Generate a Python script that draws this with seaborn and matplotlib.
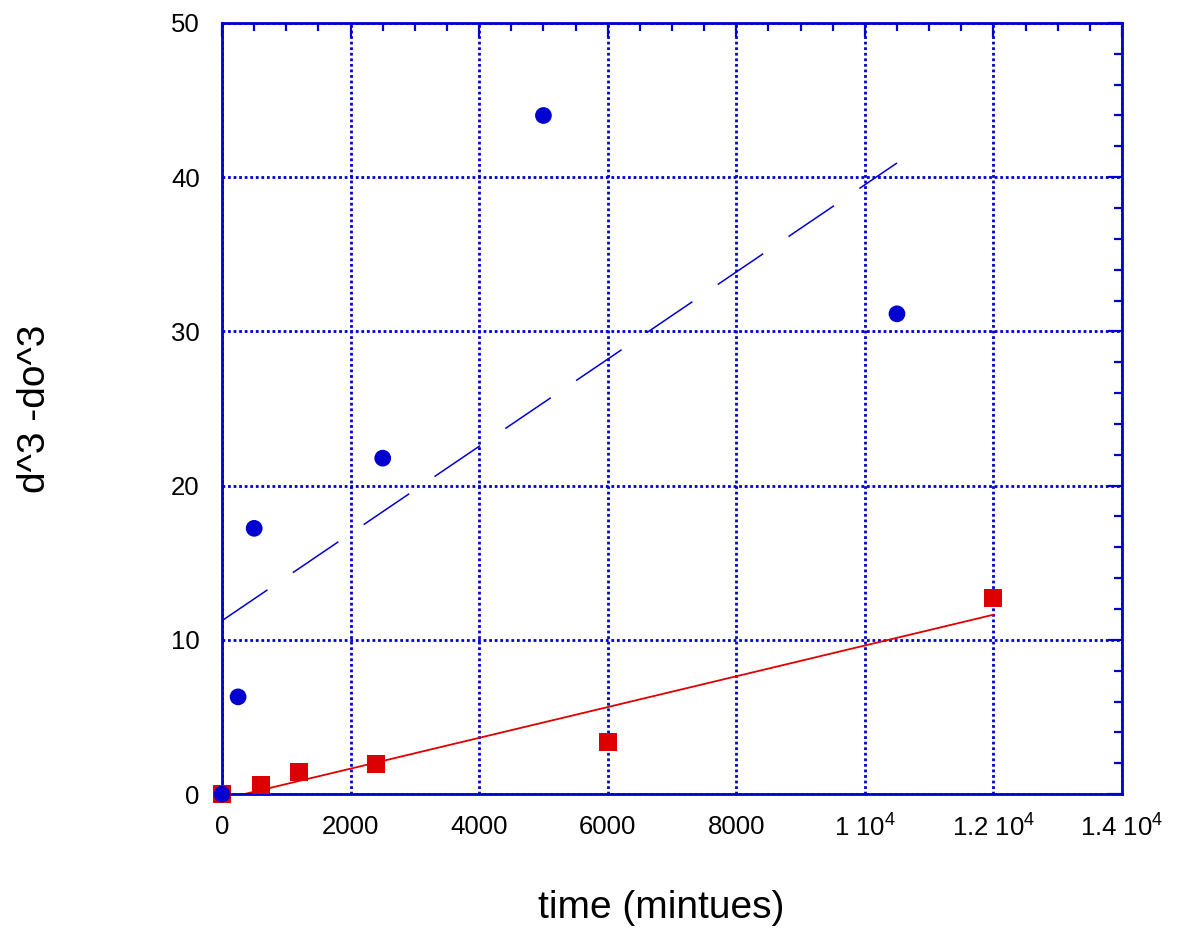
import pandas as pd
import seaborn as sns
import matplotlib.pyplot as plt
from matplotlib.ticker import MultipleLocator, FixedLocator, FixedFormatter

# data
blue_time = [0, 250, 500, 2500, 5000, 10500]
blue_val = [0.0, 6.3, 17.23, 21.78, 44.0, 31.14]
red_time = [0, 600, 1200, 2400, 6000, 12000]
red_val = [0.0, 0.6, 1.43, 1.95, 3.38, 12.7]

x_ticks = [0, 2000, 4000, 6000, 8000, 10000, 12000, 14000]
x_tick_labels = ['0', '2000', '4000', '6000', '8000',
                 r'1 10$^{4}$', r'1.2 10$^{4}$', r'1.4 10$^{4}$']

BLUE = '#0000d0'
RED = '#dd0000'


def plot_chart():
    blue = pd.DataFrame({'time': blue_time, 'val': blue_val})
    red = pd.DataFrame({'time': red_time, 'val': red_val})

    sns.set_style('white')
    plt.rcParams['font.family'] = ['Liberation Sans', 'DejaVu Sans']
    plt.rcParams['text.color'] = 'black'
    plt.rcParams['axes.labelcolor'] = 'black'
    plt.rcParams['mathtext.fontset'] = 'custom'
    plt.rcParams['mathtext.rm'] = 'Liberation Sans'
    plt.rcParams['mathtext.it'] = 'Liberation Sans'

    fig, ax = plt.subplots(figsize=(11.81, 9.30), dpi=100)
    fig.subplots_adjust(left=0.188, right=0.950, bottom=0.1462, top=0.9753)

    # fitted lines
    sns.regplot(data=blue, x='time', y='val', ax=ax, ci=None, scatter=False,
                line_kws={'color': BLUE, 'lw': 1.1, 'dashes': (36, 20)})
    sns.regplot(data=red, x='time', y='val', ax=ax, ci=None, scatter=False,
                line_kws={'color': RED, 'lw': 1.3})

    # points
    sns.scatterplot(data=red, x='time', y='val', ax=ax, marker='s', s=165,
                    color=RED, edgecolor='none', zorder=5, clip_on=False)
    sns.scatterplot(data=blue, x='time', y='val', ax=ax, marker='o', s=145,
                    color=BLUE, edgecolor='none', zorder=6, clip_on=False)

    ax.set_xlim(0, 14000)
    ax.set_ylim(0, 50)

    ax.xaxis.set_major_locator(FixedLocator(x_ticks))
    ax.xaxis.set_major_formatter(FixedFormatter(x_tick_labels))
    ax.xaxis.set_minor_locator(MultipleLocator(500))
    ax.yaxis.set_major_locator(MultipleLocator(10))
    ax.yaxis.set_minor_locator(MultipleLocator(2))

    ax.grid(which='major', color=BLUE, linestyle=(0, (1, 1)), linewidth=2.0)
    for sp in ax.spines.values():
        sp.set_color(BLUE)
        sp.set_linewidth(2.0)
        sp.set_zorder(4)

    ax.tick_params(which='both', direction='in', top=True, right=True,
                   color=BLUE, labelcolor='black', labelsize=18.5)
    ax.tick_params(which='major', length=10, width=1.6)
    ax.tick_params(which='minor', length=6, width=1.6)
    ax.tick_params(axis='x', pad=15)
    ax.tick_params(axis='y', pad=16)

    ax.set_xlabel('time (mintues)', fontsize=28, color='black')
    ax.set_ylabel('d^3 -do^3', fontsize=28, color='black')
    ax.xaxis.set_label_coords(0.488, -0.125)
    ax.yaxis.set_label_coords(-0.188, 0.5)

    fig.savefig('out.png', dpi=100)


def main():
    plot_chart()


if __name__ == "__main__":
    main()
